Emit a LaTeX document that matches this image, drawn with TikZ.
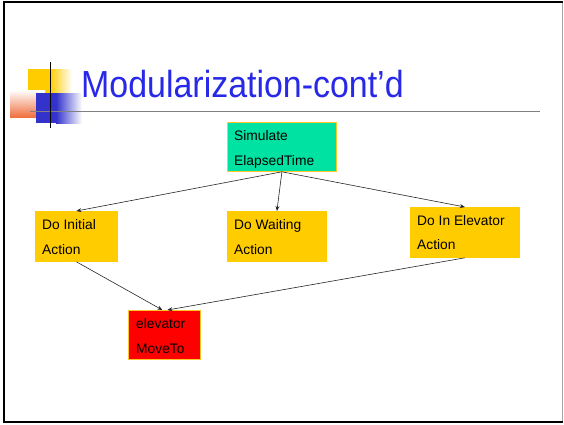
\documentclass[tikz,border=0pt]{standalone}
\usepackage{fontspec}
\setmainfont{Liberation Sans}
\usetikzlibrary{arrows.meta,calc}
\definecolor{boxyellow}{RGB}{255,204,0}
\definecolor{boxteal}{RGB}{0,226,162}
\definecolor{boxred}{RGB}{255,0,0}
\definecolor{boxedge}{RGB}{255,200,40}
\definecolor{titleblue}{RGB}{40,40,232}
\definecolor{decoblue}{RGB}{51,51,204}
\definecolor{decoorange}{RGB}{240,112,64}
\tikzset{
  box/.style={draw=boxedge, line width=0.8pt, rectangle, anchor=north west, inner sep=0pt},
  boxtxt/.style={anchor=base west, inner sep=0pt, font=\fontsize{13.8}{16}\selectfont, text=black},
  conn/.style={draw=black!85, line width=0.6pt, -{Stealth[length=5pt,width=4pt]}},
}
\begin{document}
\begin{tikzpicture}[x=1pt,y=-1pt]
\useasboundingbox (0,0) rectangle (564,424);
\fill[white] (0,0) rectangle (564,424);
% frame
\draw[gray!70, line width=1pt] (562.7,2.5) -- (562.7,421.5);
\draw[black, line width=2.2pt] (562.7,2.3) -- (3.8,2.3) -- (3.8,421.8) -- (562.7,421.8);
% decoration
\fill[boxyellow] (28,69) rectangle (50,93);
\shade[left color=boxyellow, right color=white] (50,69) rectangle (72,93);
\shade[shading angle=45, top color=white, bottom color=decoorange] (10,90) rectangle (45,117);
\fill[decoblue] (36,93) rectangle (56,123);
\shade[left color=decoblue, right color=white] (56,93) rectangle (82,123);
\draw[gray, line width=1.2pt] (30,111.7) -- (540,111.7);
\draw[black, line width=1.6pt] (50.5,62) -- (50.5,128);
% title
\node[anchor=base west, inner sep=0pt, text=titleblue, font=\fontsize{37.7}{40}\selectfont] (title) at (81,97) {\scalebox{0.9}[1]{Modularization-cont’d}};
% boxes
\node[box, fill=boxteal, minimum width=109pt, minimum height=49pt] (sim) at (227,122) {};
\node[boxtxt] (sim1) at ($(sim.north west)+(7,18)$) {Simulate};
\node[boxtxt] (sim2) at ($(sim.north west)+(7,43)$) {ElapsedTime};
\node[box, draw=boxyellow, fill=boxyellow, minimum width=82pt, minimum height=50pt] (di) at (35,211) {};
\node[boxtxt] (di1) at ($(di.north west)+(7,18)$) {Do Initial};
\node[boxtxt] (di2) at ($(di.north west)+(7,43)$) {Action};
\node[box, draw=boxyellow, fill=boxyellow, minimum width=99pt, minimum height=50pt] (dw) at (227,211) {};
\node[boxtxt] (dw1) at ($(dw.north west)+(7,18)$) {Do Waiting};
\node[boxtxt] (dw2) at ($(dw.north west)+(7,43)$) {Action};
\node[box, draw=boxyellow, fill=boxyellow, minimum width=109pt, minimum height=50pt] (de) at (410,207) {};
\node[boxtxt] (de1) at ($(de.north west)+(7,18)$) {Do In Elevator};
\node[boxtxt] (de2) at ($(de.north west)+(7,42)$) {Action};
\node[box, fill=boxred, minimum width=72pt, minimum height=49pt] (mv) at (128,310) {};
\node[boxtxt] (mv1) at ($(mv.north west)+(8,18)$) {elevator};
\node[boxtxt] (mv2) at ($(mv.north west)+(8,43)$) {MoveTo};
% connectors
\draw[conn] (sim.south) -- (di.north);
\draw[conn] (sim.south) -- (dw.north);
\draw[conn] (sim.south) -- (de.north);
\draw[conn] (di.south) -- ($(mv.north)+(-2,0)$);
\draw[conn] (de.south) -- ($(mv.north)+(3,0)$);
\end{tikzpicture}
\end{document}
